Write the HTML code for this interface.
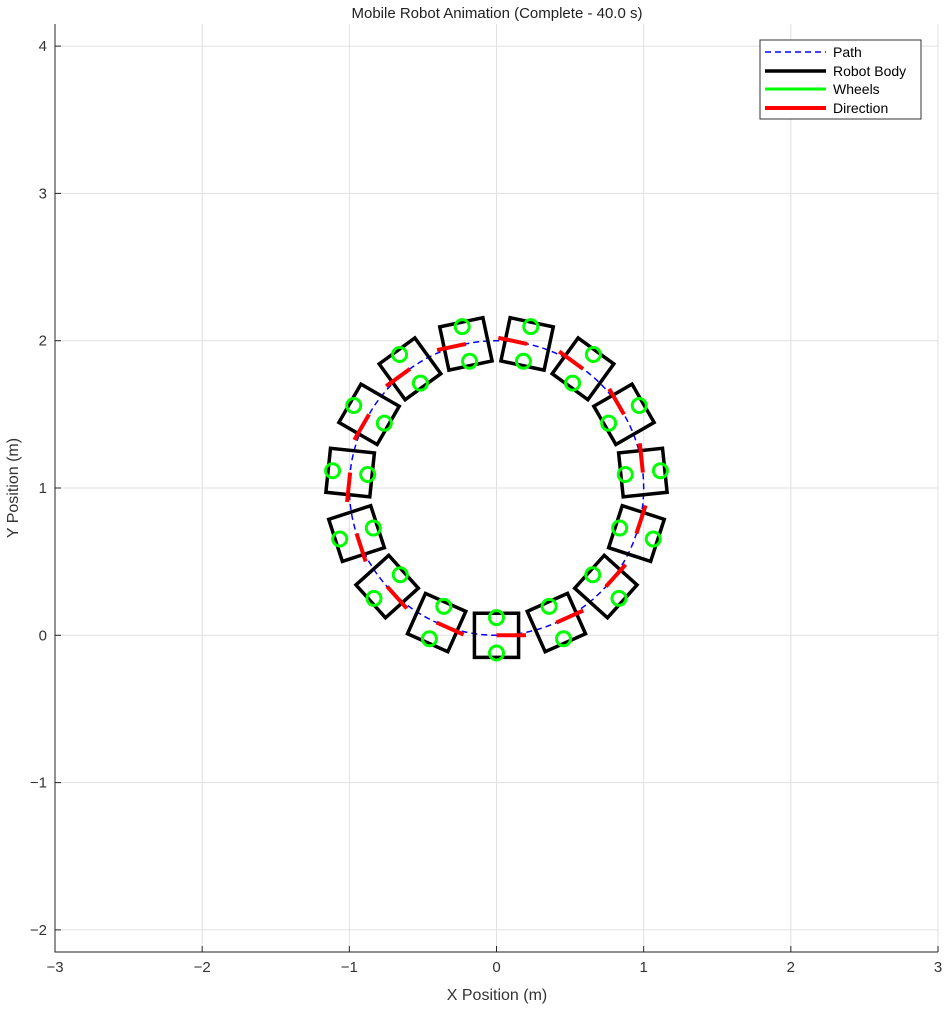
<!DOCTYPE html>
<html><head><meta charset="utf-8"><style>
body{margin:0;background:#fff;}
svg text{font-family:"Liberation Sans",sans-serif;}
</style></head><body>
<svg width="945" height="1005" viewBox="0 0 945 1005" xmlns="http://www.w3.org/2000/svg">
<g id="grid"></g>
<g id="pathg"></g>
<g id="robots"></g>
<g id="axes"></g>
<text x="497" y="18" text-anchor="middle" font-size="15" fill="#222">Mobile Robot Animation (Complete - 40.0 s)</text>
<text x="497" y="1000" text-anchor="middle" font-size="16" fill="#333">X Position (m)</text>
<text x="18" y="488" text-anchor="middle" font-size="16" fill="#333" transform="rotate(-90 18 488)">Y Position (m)</text>
<g>
<rect x="760" y="40" width="161" height="79" fill="#fff" stroke="#333" stroke-width="1"/>
<g><line x1="765" y1="52" x2="826" y2="52" stroke="#0000ff" stroke-width="1.5" stroke-dasharray="6,4"/><text x="833" y="57" font-size="14">Path</text></g>
<g><line x1="765" y1="71" x2="826" y2="71" stroke="#000" stroke-width="3.5"/><text x="833" y="76" font-size="14">Robot Body</text></g>
<g><line x1="765" y1="89" x2="826" y2="89" stroke="#00ff00" stroke-width="3"/><text x="833" y="94" font-size="14">Wheels</text></g>
<g><line x1="765" y1="108" x2="826" y2="108" stroke="#ff0000" stroke-width="4"/><text x="833" y="113" font-size="14">Direction</text></g>
</g>
</svg>
<script>
const xTicks=[-3,-2,-1,0,1,2,3];
const yTicks=[-2,-1,0,1,2,3,4];
const robotHeadingsDeg=[0,24,48,72,96,120,144,168,192,216,240,264,288,312,336];
const pathRadius=[1];
const pathCenter=[0,1];
const xMin=-3,xMax=3,yMin=-2.15,yMax=4.15;
const L=55,R=938,T=24,B=952;
const sx=v=>L+(v-xMin)/(xMax-xMin)*(R-L);
const sy=v=>B-(v-yMin)/(yMax-yMin)*(B-T);
const NS="http://www.w3.org/2000/svg";
function mk(tag,attrs,parent){const e=document.createElementNS(NS,tag);for(const k in attrs)e.setAttribute(k,attrs[k]);parent.appendChild(e);return e;}
const grid=document.getElementById('grid'),axes=document.getElementById('axes');
xTicks.forEach(t=>{
 const g=mk('line',{x1:sx(t),x2:sx(t),y1:T,y2:B,stroke:'#e0e0e0','stroke-width':1},grid);
 
 
 const tk=mk('line',{x1:sx(t),x2:sx(t),y1:B,y2:B-6,stroke:'#262626'},axes);
 
 
 const tx=mk('text',{x:sx(t),y:B+20,'text-anchor':'middle','font-size':15,fill:'#333'},axes);
 tx.textContent=(t<0?'\u2212'+(-t):t);
 
 
});
yTicks.forEach(t=>{
 const g=mk('line',{x1:L,x2:R,y1:sy(t),y2:sy(t),stroke:'#e0e0e0','stroke-width':1},grid);
 
 
 const tk=mk('line',{x1:L,x2:L+6,y1:sy(t),y2:sy(t),stroke:'#262626'},axes);
 
 
 const tx=mk('text',{x:L-8,y:sy(t)+5,'text-anchor':'end','font-size':15,fill:'#333'},axes);
 tx.textContent=(t<0?'\u2212'+(-t):t);
 
 
});
const ax=mk('path',{d:`M${L},${T}V${B}H${R}`,fill:'none',stroke:'#262626','stroke-width':1},axes);


let d='';
for(let i=0;i<=360;i++){const a=i*Math.PI/180;const x=pathCenter[0]+pathRadius[0]*Math.sin(a),y=pathCenter[1]-pathRadius[0]*Math.cos(a);d+=(i?'L':'M')+sx(x).toFixed(1)+','+sy(y).toFixed(1);}
const p=mk('path',{d:d,fill:'none',stroke:'#0000ff','stroke-width':1.5,'stroke-dasharray':'6,4'},document.getElementById('pathg'));


const rg=document.getElementById('robots');
const half=0.15,wOff=0.12,dirLen=0.2;
robotHeadingsDeg.forEach(h=>{
 const a=h*Math.PI/180,c=Math.cos(a),s=Math.sin(a);
 const x=pathCenter[0]+pathRadius[0]*Math.sin(a),y=pathCenter[1]-pathRadius[0]*Math.cos(a);
 const g=mk('g',{},rg);
 
 
 const pt=(u,v)=>[sx(x+u*c-v*s),sy(y+u*s+v*c)];
 const cs=[pt(half,half),pt(-half,half),pt(-half,-half),pt(half,-half)];
 const body=mk('polygon',{points:cs.map(q=>q.join(',')).join(' '),fill:'none',stroke:'#000','stroke-width':3.5},g);
 
 
 [wOff,-wOff].forEach(v=>{const q=pt(0,v);const w=mk('circle',{cx:q[0],cy:q[1],r:7,fill:'none',stroke:'#00ff00','stroke-width':3},g);
  
  });
 const e=pt(dirLen,0);
 const dl=mk('line',{x1:sx(x),y1:sy(y),x2:e[0],y2:e[1],stroke:'#ff0000','stroke-width':4},g);
 
 
});
</script>
</body></html>
